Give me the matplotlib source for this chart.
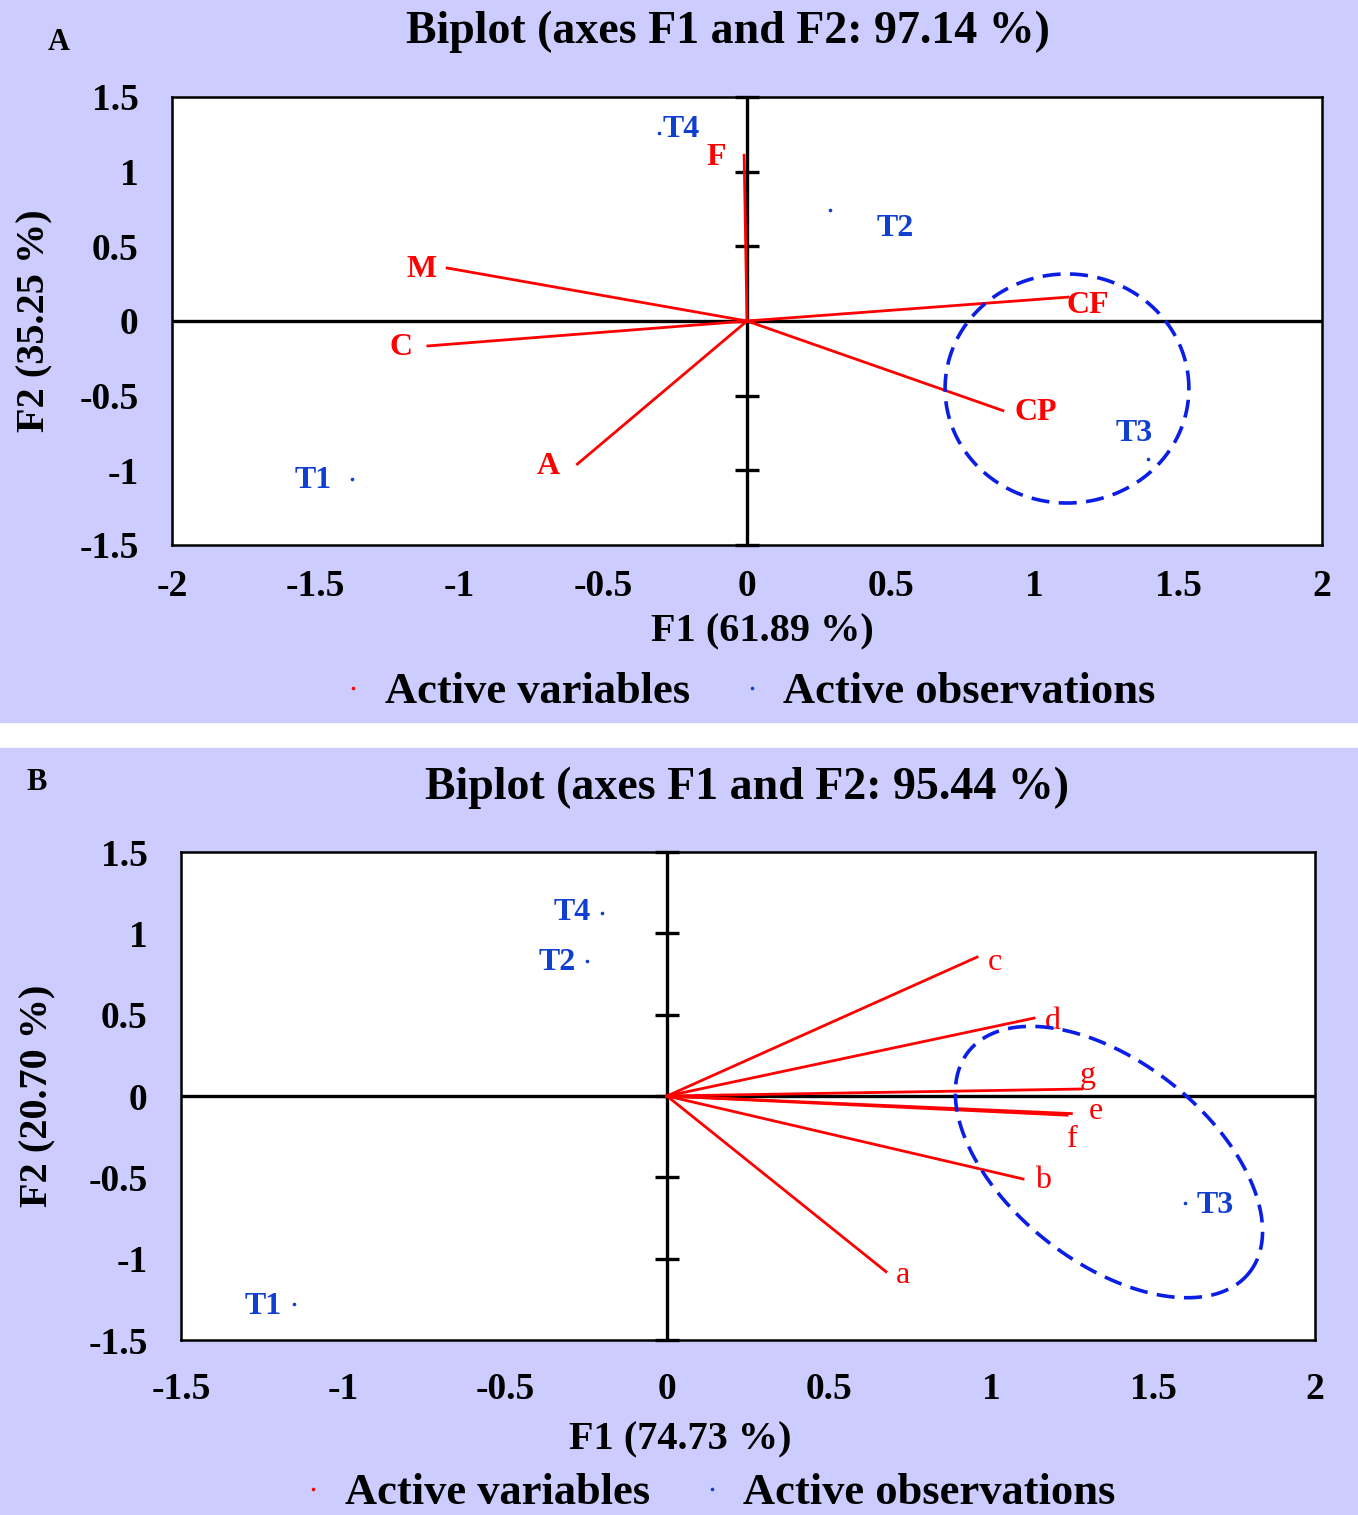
import numpy as np
import matplotlib
matplotlib.use('Agg')
import matplotlib.pyplot as plt
from matplotlib.patches import Rectangle
from matplotlib.lines import Line2D

plt.rcParams['font.family'] = ['Liberation Serif', 'DejaVu Serif']
plt.rcParams['font.weight'] = 'bold'

W, H = 1358, 1515
BG = '#ccccff'
RED = '#ff0000'
BLUE = '#1040d0'
ELL = '#0a1ee6'

# panel A data
a_vars = ['F', 'M', 'C', 'A', 'CF', 'CP']
a_vars_f1 = [-0.01, -1.043, -1.11, -0.59, 1.117, 0.89]
a_vars_f2 = [1.11, 0.355, -0.167, -0.958, 0.16, -0.60]
a_obs = ['T1', 'T2', 'T3', 'T4']
a_obs_f1 = [-1.374, 0.289, 1.395, -0.306]
a_obs_f2 = [-1.058, 0.743, -0.924, 1.26]

# panel B data
b_vars = ['a', 'b', 'c', 'd', 'e', 'f', 'g']
b_vars_f1 = [0.676, 1.099, 0.957, 1.133, 1.248, 1.235, 1.28]
b_vars_f2 = [-1.08, -0.51, 0.854, 0.479, -0.108, -0.118, 0.043]
b_obs = ['T1', 'T2', 'T3', 'T4']
b_obs_f1 = [-1.151, -0.247, 1.60, -0.2]
b_obs_f2 = [-1.28, 0.83, -0.66, 1.125]

# label offsets in pixels (dx, dy)
a_var_off = [(-28, -2), (-26, -2), (-27, -2), (-29, -2), (20, -8), (33, -2)]
a_obs_off = [(-39, -2), (65, -18), (-14, 25), (22, 3)]
b_var_off = [(17, -4), (20, -2), (18, -5), (19, -3), (25, 2), (5, -24), (6, 14)]
b_obs_off = [(-31, -2), (-30, -2), (30, -2), (-30, 1)]


def px(x, y):
    return x / W, 1 - y / H


fig = plt.figure(figsize=(W / 100, H / 100), dpi=100)
fig.patches.append(Rectangle((0, 1 - 722 / H), 1, 722 / H, transform=fig.transFigure,
                             color=BG, zorder=-10))
fig.patches.append(Rectangle((0, 0), 1, 1 - 748 / H, transform=fig.transFigure,
                             color=BG, zorder=-10))


def draw_biplot(box, xlim, ylim, xticks, names, f1, f2, voff, vbold,
                onames, o1, o2, ooff, ell, xpad):
    l, t, r, b = box
    ax = fig.add_axes([l / W, 1 - b / H, (r - l) / W, (b - t) / H])
    ax.set_facecolor('white')
    ax.set_xlim(xlim)
    ax.set_ylim(ylim)
    for s in ax.spines.values():
        s.set_linewidth(1.8)
    ax.axhline(0, color='black', lw=2.4, zorder=1)
    ax.axvline(0, color='black', lw=2.4, zorder=1)
    yt = [-1.5, -1, -0.5, 0, 0.5, 1, 1.5]
    ax.set_yticks(yt)
    ax.set_yticklabels(['-1.5', '-1', '-0.5', '0', '0.5', '1', '1.5'])
    ax.set_xticks(xticks)
    ax.set_xticklabels([('%g' % v) for v in xticks])
    ax.tick_params(length=0, labelsize=27)
    ax.tick_params(axis='y', pad=24)
    ax.tick_params(axis='x', pad=xpad)
    ax.plot([0] * len(yt), yt, ls='none', marker='_', ms=17, mew=2.4,
            color='black', clip_on=False, zorder=2)
    for n, x, y, off in zip(names, f1, f2, voff):
        ax.plot([0, x], [0, y], color=RED, lw=2.0, zorder=3)
        ax.annotate(n, (x, y), xytext=off, textcoords='offset pixels',
                    ha='center', va='center', color=RED, fontsize=23,
                    fontweight='bold' if vbold else 'normal')
    ax.plot(o1, o2, ls='none', marker='o', ms=1.6, color=BLUE, zorder=3)
    for n, x, y, off in zip(onames, o1, o2, ooff):
        ax.annotate(n, (x, y), xytext=off, textcoords='offset pixels',
                    ha='center', va='center', color=BLUE, fontsize=23,
                    fontweight='bold')
    cx, cy, mx, my, nx, ny = ell
    tt = np.linspace(0, 2 * np.pi, 300)
    ax.plot(cx + mx * np.cos(tt) + nx * np.sin(tt),
            cy + my * np.cos(tt) + ny * np.sin(tt),
            color=ELL, lw=2.6, ls=(0, (5, 2.6)), zorder=4)
    return ax


ax1 = draw_biplot((172, 97, 1322, 545), (-2, 2), (-1.5, 1.5), [-2, -1.5, -1, -0.5, 0, 0.5, 1, 1.5, 2],
                  a_vars, a_vars_f1, a_vars_f2, a_var_off, True,
                  a_obs, a_obs_f1, a_obs_f2, a_obs_off,
                  (1.113, -0.452, 0.424, 0, 0, 0.767), 17)
ax2 = draw_biplot((181, 852, 1315, 1340), (-1.5, 2), (-1.5, 1.5), [-1.5, -1, -0.5, 0, 0.5, 1, 1.5, 2],
                  b_vars, b_vars_f1, b_vars_f2, b_var_off, False,
                  b_obs, b_obs_f1, b_obs_f2, b_obs_off,
                  (1.364, -0.406, 0.434, -0.678, -0.191, -0.486), 23)

# titles, labels
fig.text(*px(728, 32), 'Biplot (axes F1 and F2: 97.14 %)', ha='center', va='center', fontsize=33)
fig.text(*px(747, 788), 'Biplot (axes F1 and F2: 95.44 %)', ha='center', va='center', fontsize=33)
fig.text(*px(59, 42), 'A', ha='center', va='center', fontsize=22)
fig.text(*px(37, 783), 'B', ha='center', va='center', fontsize=22)
fig.text(*px(762, 632), 'F1 (61.89 %)', ha='center', va='center', fontsize=29)
fig.text(*px(680, 1440), 'F1 (74.73 %)', ha='center', va='center', fontsize=29)
fig.text(*px(35, 321), 'F2 (35.25 %)', ha='center', va='center', fontsize=29, rotation=90)
fig.text(*px(38, 1096), 'F2 (20.70 %)', ha='center', va='center', fontsize=29, rotation=90)

handles = [Line2D([], [], ls='none', marker='o', ms=1.6, color=RED),
           Line2D([], [], ls='none', marker='o', ms=1.6, color=BLUE)]
for cx, cy in [(750, 692), (710, 1493)]:
    fig.legend(handles, ['Active variables', 'Active observations'], loc='center',
               bbox_to_anchor=px(cx, cy), ncol=2, frameon=False, fontsize=32,
               handlelength=0.4, handletextpad=0.5, columnspacing=1.2)

fig.savefig('out.png', dpi=100)
